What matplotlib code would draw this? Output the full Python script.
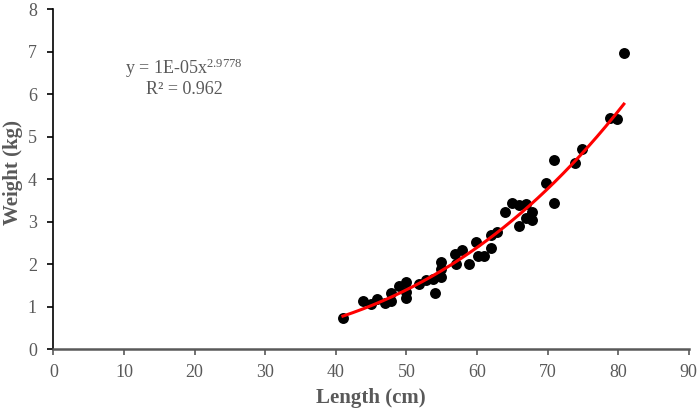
import numpy as np
import matplotlib
matplotlib.use("Agg")
import matplotlib.pyplot as plt

length_cm = [41.0, 43.8, 45.0, 45.9, 46.9, 47.8, 47.8, 49.0, 50.0, 50.0, 50.0,
             51.8, 52.8, 53.7, 54.0, 54.9, 54.9, 54.9, 56.9, 57.0, 57.9, 58.9,
             59.8, 60.1, 61.0, 62.0, 62.0, 62.9, 63.9, 64.9, 65.9, 65.9, 66.9,
             66.9, 67.8, 67.8, 69.8, 70.9, 70.9, 73.9, 74.8, 78.8, 79.8, 80.8]
weight_kg = [0.74, 1.13, 1.07, 1.17, 1.09, 1.32, 1.13, 1.48, 1.58, 1.19, 1.35,
             1.54, 1.62, 1.66, 1.31, 1.70, 2.05, 1.88, 2.23, 2.01, 2.34, 2.01,
             2.52, 2.20, 2.20, 2.39, 2.68, 2.75, 3.22, 3.43, 3.38, 2.89, 3.42,
             3.09, 3.22, 3.03, 3.90, 4.44, 3.43, 4.37, 4.71, 5.45, 5.42, 6.98]

x_ticks = [0, 10, 20, 30, 40, 50, 60, 70, 80, 90]
y_ticks = [0, 1, 2, 3, 4, 5, 6, 7, 8]

plt.rcParams['font.family'] = ['Liberation Serif', 'DejaVu Serif']
plt.rcParams['mathtext.fontset'] = 'custom'
plt.rcParams['mathtext.rm'] = 'Liberation Serif'
plt.rcParams['mathtext.it'] = 'Liberation Serif'
grey = '#595959'

fig = plt.figure(figsize=(7.0, 4.12), dpi=100)
ax = fig.add_axes([0.0764, 0.1529, 0.9076, 0.8245])

L = np.array(length_cm)
W = np.array(weight_kg)
b, lna = np.polyfit(np.log(L), np.log(W), 1)
xf = np.linspace(L.min(), L.max(), 200)
yf = np.exp(lna) * xf ** b

ax.scatter(L, W, s=62, color='black', zorder=3, linewidths=0)
ax.plot(xf, yf, color='#ff0000', lw=2.2, zorder=4)

ax.set_xlim(0, 90)
ax.set_ylim(0, 8)
ax.set_xticks(x_ticks)
ax.set_yticks(y_ticks)
ax.tick_params(axis='both', direction='out', length=4, width=1.2, labelsize=13,
               labelcolor=grey)
ax.tick_params(axis='x', color=grey, pad=7)
ax.tick_params(axis='y', color='black', pad=8)
for s in ['top', 'right']:
    ax.spines[s].set_visible(False)
ax.spines['left'].set_color('black')
ax.spines['left'].set_linewidth(1.2)
ax.spines['bottom'].set_color(grey)
ax.spines['bottom'].set_linewidth(1.8)

ax.set_xlabel('Length (cm)', fontsize=15, fontweight='bold', color=grey, labelpad=5)
ax.set_ylabel('Weight (kg)', fontsize=15, fontweight='bold', color=grey, va='center')
ax.yaxis.set_label_coords(-0.063, 0.52)

ax.annotate('y = 1E-05x$^{\\mathrm{2.9778}}$', xy=(184, 412 - 68), xycoords='figure pixels',
            ha='center', va='center', fontsize=13, color=grey)
ax.annotate('R² = 0.962', xy=(184, 412 - 89), xycoords='figure pixels',
            ha='center', va='center', fontsize=13, color=grey)

fig.savefig('out.png', dpi=100)
